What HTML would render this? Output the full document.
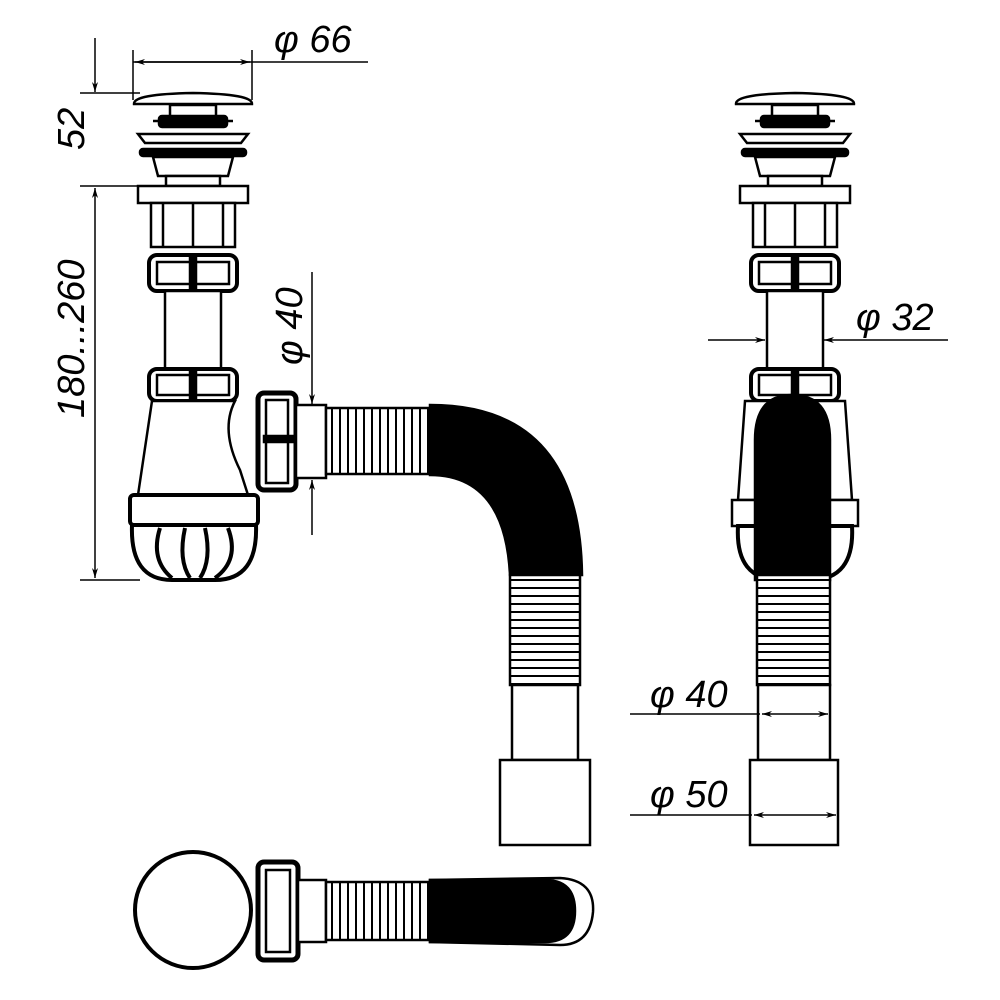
<!DOCTYPE html>
<html><head><style>html,body{margin:0;padding:0;background:#fff}svg{display:block}</style></head>
<body>
<svg width="1000" height="1000" viewBox="0 0 1000 1000" xmlns="http://www.w3.org/2000/svg" font-family="Liberation Sans Narrow, Liberation Sans, sans-serif">
<defs>
<marker id="ar" viewBox="0 0 10 6" refX="10" refY="3" markerWidth="14" markerHeight="6" orient="auto-start-reverse" markerUnits="userSpaceOnUse"><path d="M0,0 L10,3 L0,6 L3,3 Z" fill="#000"/></marker>
<g id="top" fill="#fff" stroke="#000" stroke-width="2.5">
  <path d="M-59,104 Q-60,94 0,93 Q60,94 59,104 Z"/>
  <rect x="-23" y="105" width="46" height="12"/>
  <rect x="-34" y="116" width="68" height="11" rx="3" fill="#000"/>
  <line x1="-40" y1="121" x2="40" y2="121"/>
  <path d="M-55,134 L55,134 L48,143 L-48,143 Z"/>
  <rect x="-53" y="149" width="106" height="7" rx="3" fill="#000"/>
  <path d="M-40,157 L40,157 L35,176 L-35,176 Z"/>
  <rect x="-27" y="176" width="54" height="10"/>
  <rect x="-55" y="186" width="110" height="17"/>
  <rect x="-42" y="203" width="84" height="44"/>
  <line x1="-30" y1="203" x2="-30" y2="247"/><line x1="0" y1="203" x2="0" y2="247"/><line x1="30" y1="203" x2="30" y2="247"/>
  <rect x="-44" y="255" width="88" height="36" rx="8" stroke-width="4"/>
  <rect x="-36" y="262" width="72" height="22" fill="none"/>
  <rect x="-3" y="255" width="6" height="36" fill="#000"/>
  <rect x="-28" y="291" width="56" height="79"/>
</g>
<g id="nut2" fill="#fff" stroke="#000" stroke-width="2.5">
  <rect x="-44" y="369" width="88" height="32" rx="8" stroke-width="4"/>
  <rect x="-36" y="375" width="72" height="20" fill="none"/>
  <rect x="-3" y="369" width="6" height="32" fill="#000"/>
</g>
<pattern id="corr" width="8" height="10" patternUnits="userSpaceOnUse"><rect width="8" height="10" fill="#fff"/><line x1="4" y1="0" x2="4" y2="10" stroke="#000" stroke-width="2"/></pattern>
<pattern id="corrv" width="10" height="8" patternUnits="userSpaceOnUse"><rect width="10" height="8" fill="#fff"/><line x1="0" y1="4" x2="10" y2="4" stroke="#000" stroke-width="2"/></pattern>
</defs>

<use href="#top" x="193"/>
<use href="#nut2" x="193"/>
<g fill="#fff" stroke="#000" stroke-width="2.5">
  <path d="M152,401 L235,401 Q220,430 240,470 L248,495 L138,495 Z"/>
  <rect x="130" y="495" width="128" height="30" rx="4" stroke-width="4"/>
  <path d="M132,525 L256,525 Q258,580 215,580 L172,580 Q130,580 132,525 Z" stroke-width="4"/>
  <path d="M160,528 Q150,560 172,578 M185,528 Q178,560 190,578 M205,528 Q212,560 200,578 M228,528 Q240,560 215,578" fill="none" stroke-width="4"/>
  <rect x="258" y="393" width="38" height="97" rx="6" stroke-width="5"/>
  <rect x="266" y="400" width="22" height="83" fill="none"/>
  <rect x="264" y="436" width="30" height="6" fill="#000"/>
  <rect x="296" y="405" width="30" height="73"/>
  <rect x="326" y="408" width="105" height="66" fill="url(#corr)"/>
  <path d="M430,405 Q580,405 582,575 L510,575 Q505,475 430,475 Z" fill="#000"/>
  <rect x="510" y="575" width="70" height="110" fill="url(#corrv)"/>
  <rect x="512" y="685" width="66" height="75"/>
  <rect x="500" y="760" width="90" height="85"/>
</g>

<use href="#top" x="795"/>
<use href="#nut2" x="795"/>
<g fill="#fff" stroke="#000" stroke-width="2.5">
  <path d="M745,401 L845,401 L852,500 L738,500 Z"/>
  <rect x="732" y="500" width="126" height="26"/>
  <path d="M738,526 L852,526 Q855,580 810,580 L780,580 Q735,580 738,526 Z" stroke-width="4"/>
  <path d="M755,440 Q755,395 792,395 Q830,395 830,440 L830,580 L755,580 Z" fill="#000"/>
  <rect x="757" y="575" width="73" height="110" fill="url(#corrv)"/>
  <rect x="758" y="685" width="72" height="75"/>
  <rect x="750" y="760" width="88" height="85"/>
</g>

<g fill="#fff" stroke="#000" stroke-width="2.5">
  <path d="M430,880 L560,878 Q595,880 593,912 Q590,945 560,945 L430,942 Z" fill="#fff"/>
  <circle cx="193" cy="910" r="58" stroke-width="4"/>
  <rect x="258" y="862" width="40" height="98" rx="6" stroke-width="5"/>
  <rect x="266" y="870" width="24" height="82" fill="none"/>
  <rect x="298" y="880" width="28" height="62"/>
  <rect x="326" y="882" width="105" height="58" fill="url(#corr)"/>
  <path d="M430,880 L545,880 Q575,880 575,911 Q575,942 545,942 L430,942 Z" fill="#000"/>
</g>

<g stroke="#000" stroke-width="1.5" fill="none">
  <line x1="133" y1="50" x2="133" y2="100"/><line x1="252" y1="50" x2="252" y2="100"/>
  <line x1="133" y1="62" x2="368" y2="62" /><line x1="135" y1="62" x2="250" y2="62" marker-start="url(#ar)" marker-end="url(#ar)"/>
  <line x1="80" y1="93" x2="140" y2="93"/><line x1="80" y1="186" x2="140" y2="186"/><line x1="80" y1="580" x2="140" y2="580"/>
  <line x1="95" y1="38" x2="95" y2="92" marker-end="url(#ar)"/>
  <line x1="95" y1="188" x2="95" y2="578" marker-start="url(#ar)" marker-end="url(#ar)"/>
  <line x1="312" y1="272" x2="312" y2="404" marker-end="url(#ar)"/>
  <line x1="312" y1="535" x2="312" y2="480" marker-end="url(#ar)"/>
  <line x1="708" y1="340" x2="765" y2="340" marker-end="url(#ar)"/>
  <line x1="948" y1="340" x2="824" y2="340" marker-end="url(#ar)"/>
  <line x1="630" y1="714" x2="760" y2="714"/><line x1="762" y1="714" x2="828" y2="714" marker-start="url(#ar)" marker-end="url(#ar)"/>
  <line x1="630" y1="815" x2="752" y2="815"/><line x1="754" y1="815" x2="836" y2="815" marker-start="url(#ar)" marker-end="url(#ar)"/>
</g>
<g font-size="38" font-style="italic" fill="#000">
  <text x="274" y="52">φ 66</text>
  <text transform="translate(84,150) rotate(-90)">52</text>
  <text transform="translate(84,418) rotate(-90)">180...260</text>
  <text transform="translate(302,365) rotate(-90)">φ 40</text>
  <text x="856" y="330">φ 32</text>
  <text x="650" y="707">φ 40</text>
  <text x="650" y="807">φ 50</text>
</g>
</svg>
</body></html>
